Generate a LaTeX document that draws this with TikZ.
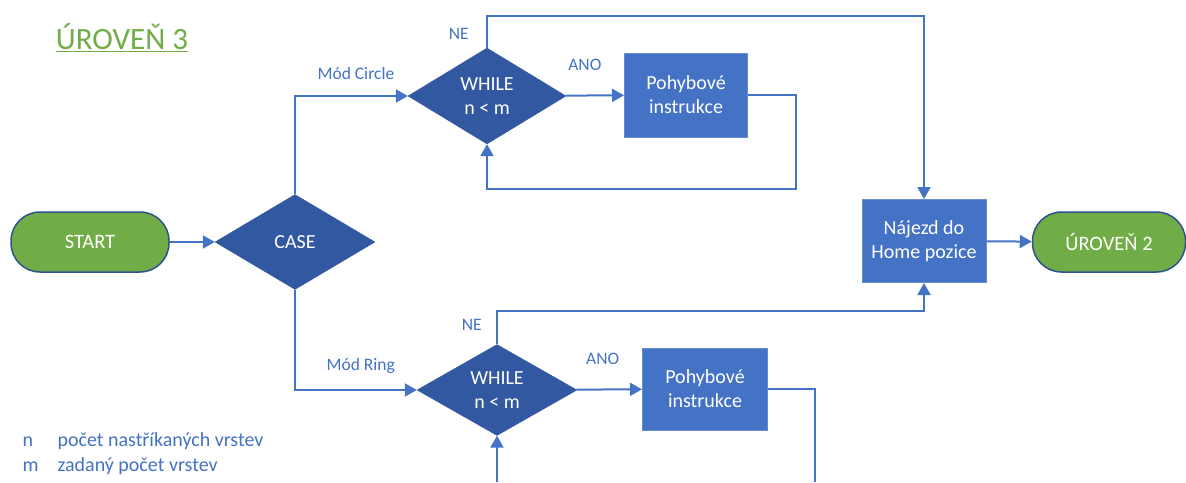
\documentclass[tikz,border=0pt]{standalone}
\usepackage{fontspec}
\setmainfont{Carlito}
\usetikzlibrary{arrows.meta,shapes.geometric}

\definecolor{flowblue}{RGB}{68,114,196}
\definecolor{darkblue}{RGB}{50,88,162}
\definecolor{rimblue}{RGB}{47,82,143}
\definecolor{flowgreen}{RGB}{112,173,71}

\begin{document}
\begin{tikzpicture}[x=1pt, y=-1pt]
\tikzstyle{terminal} = [rectangle, rounded corners = 29pt, fill = flowgreen, draw = rimblue, line width = 1.5pt, minimum width = 158pt, minimum height = 60pt, text = white, font = \fontsize{20.5}{24}\selectfont]
\tikzstyle{decision} = [diamond, fill = darkblue, draw = darkblue, inner sep = 0pt, minimum width = 160pt, minimum height = 95pt, text = white, align = center, font = \fontsize{20}{24}\selectfont]
\tikzstyle{process} = [rectangle, fill = flowblue, draw = flowblue!80!white, line width = 1pt, minimum width = 124pt, minimum height = 83pt, text = white, align = center, font = \fontsize{20}{24}\selectfont]
\tikzstyle{edge} = [draw = flowblue, line width = 2pt, -{Triangle[length = 12pt, width = 13pt]}]
\tikzstyle{line} = [draw = flowblue, line width = 2pt]
\tikzstyle{tag} = [text = flowblue, font = \fontsize{17.5}{20}\selectfont]
\tikzstyle{legend} = [text = flowblue, anchor = base west, font = \fontsize{20}{24}\selectfont]
\useasboundingbox (0,0) rectangle (1186,482);
% -----------------------------------
% Title
\node[text = flowgreen, font = \fontsize{31}{36}\selectfont] (title) at (122,38) {\underline{ÚROVEŇ 3}};

% -----------------------------------
% Main line
\node[terminal] (start) at (90,242) {START};
\node[decision] (case) at (295,242) {CASE};
\node[process] (najezd) at (924,241) {Nájezd do\\Home pozice};
\node[terminal, minimum width = 153pt] (uroven2) at (1109,242) {ÚROVEŇ 2};

\draw[edge] (start)--(case);
\draw[edge] (najezd)--(uroven2);

% -----------------------------------
% Circle mode
\node[decision, minimum width = 158pt, minimum height = 96pt] (while1) at (487,96) {WHILE\\n < m};
\node[process, minimum width = 123pt, minimum height = 84pt] (box1) at (686,95) {Pohybové\\instrukce};

\draw[edge] (case.north) |- node[tag, pos = 0.77, above = 12pt] {Mód Circle} (while1.west);
\draw[edge] (while1)-- node[tag, pos = 0.33, above = 21pt] {ANO} (box1);
\draw[edge] (while1.north)-- node[tag, left = 14pt, pos = 0.45] {NE} ++(0,-32) -| (najezd.north);
\draw[edge] (box1.east)-- ++(48,0)-- ++(0,94) -| (while1.south);

% -----------------------------------
% Ring mode
\node[decision, minimum height = 91pt] (while2) at (497,390) {WHILE\\n < m};
\node[process, minimum width = 125pt, minimum height = 82pt] (box2) at (705,389) {Pohybové\\instrukce};
\coordinate (out2) at (815,482);
\coordinate (in2) at (497,482);

\draw[edge] (case.south) |- node[tag, pos = 0.77, above = 12pt] {Mód Ring} (while2.west);
\draw[edge] (while2)-- node[tag, pos = 0.4, above = 21pt] {ANO} (box2);
\draw[edge] (while2.north)-- node[tag, left = 11pt, pos = 0.6] {NE} ++(0,-33) -| (najezd.south);
\draw[line] (box2.east) -| (out2);
\draw[edge] (in2)--(while2.south);

% -----------------------------------
% Legend
\node[legend] (n) at (19,446) {n};
\node[legend] (ntext) at (54,446) {počet nastříkaných vrstev};
\node[legend] (m) at (19,471) {m};
\node[legend] (mtext) at (54,471) {zadaný počet vrstev};
% -----------------------------------
\end{tikzpicture}
\end{document}
